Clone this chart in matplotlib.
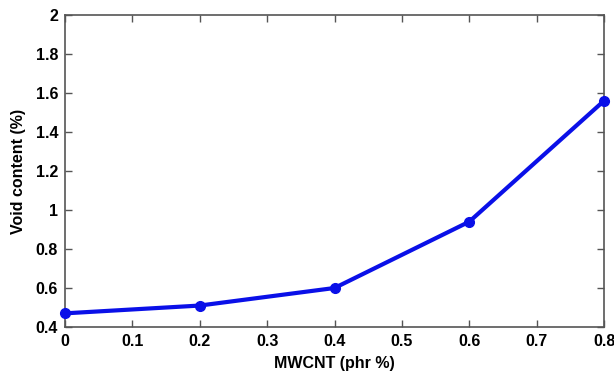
import matplotlib
matplotlib.use("Agg")
import matplotlib.pyplot as plt

mwcnt = [0.0, 0.2, 0.4, 0.6, 0.8]
void_content = [0.47, 0.51, 0.60, 0.94, 1.56]
xticks = [0, 0.1, 0.2, 0.3, 0.4, 0.5, 0.6, 0.7, 0.8]
xticklabels = ["0", "0.1", "0.2", "0.3", "0.4", "0.5", "0.6", "0.7", "0.8"]
yticks = [0.4, 0.6, 0.8, 1.0, 1.2, 1.4, 1.6, 1.8, 2.0]
yticklabels = ["0.4", "0.6", "0.8", "1", "1.2", "1.4", "1.6", "1.8", "2"]

plt.rcParams['font.family'] = ['Liberation Sans', 'DejaVu Sans']
plt.rcParams['font.weight'] = 'bold'

fig = plt.figure(figsize=(6.14, 3.77), dpi=100)
ax = fig.add_axes([65/614, 1-327/377, (604-65)/614, (327-15)/377])
ax.plot(mwcnt, void_content, color='#0a10e8', lw=3, marker='o', ms=7, clip_on=False, zorder=3)
ax.set_xlim(0, 0.8)
ax.set_ylim(0.4, 2.0)
ax.set_xticks(xticks)
ax.set_xticklabels(xticklabels)
ax.set_yticks(yticks)
ax.set_yticklabels(yticklabels)
ax.tick_params(direction='in', top=True, right=True, length=5, width=1, color='#555555', labelsize=11.5, pad=5)
for s in ax.spines.values():
    s.set_color('#555555')
    s.set_linewidth(1.2)
ax.set_xlabel("MWCNT (phr %)", fontsize=11.5, fontweight='bold', labelpad=5)
ax.set_ylabel("Void content (%)", fontsize=11.5, fontweight='bold', labelpad=7)
fig.savefig("out.png", dpi=100)
